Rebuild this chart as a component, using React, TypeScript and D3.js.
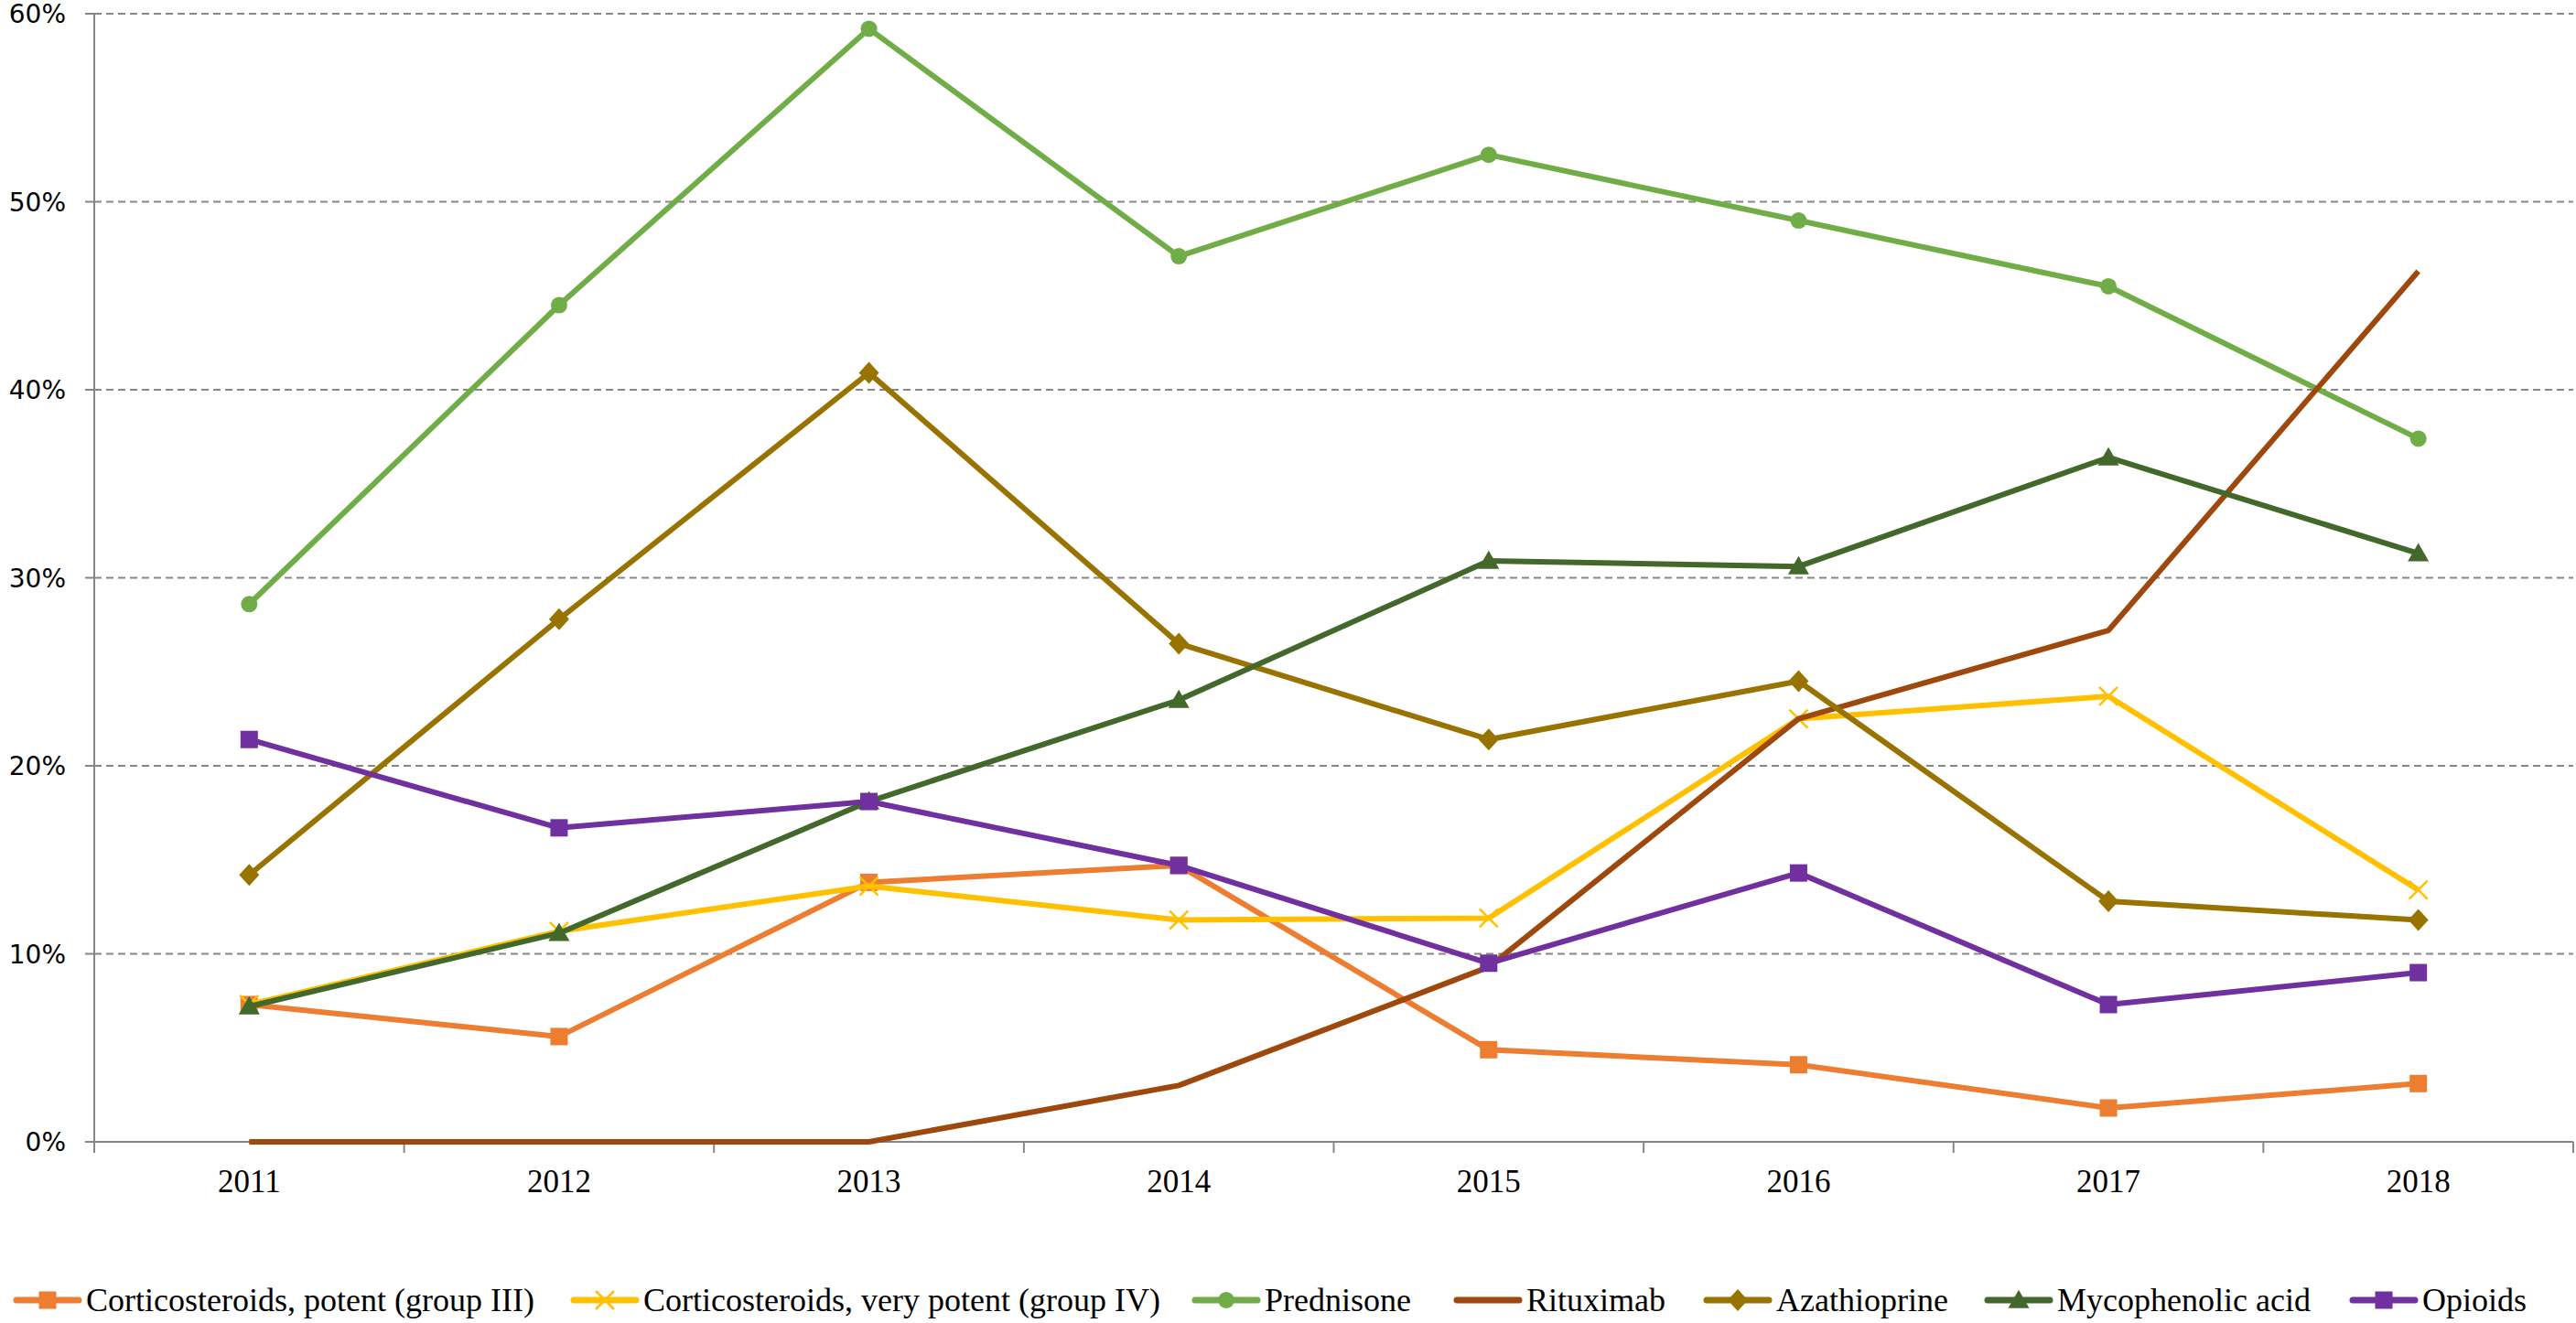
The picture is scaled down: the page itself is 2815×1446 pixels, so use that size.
import * as d3 from 'd3'

const years = ['2011', '2012', '2013', '2014', '2015', '2016', '2017', '2018']
const potent = [7.3, 5.6, 13.8, 14.7, 4.9, 4.1, 1.8, 3.1]
const veryPotent = [7.3, 11.2, 13.6, 11.8, 11.9, 22.5, 23.7, 13.4]
const prednisone = [28.6, 44.5, 59.2, 47.1, 52.5, 49.0, 45.5, 37.4]
const rituximab = [0, 0, 0, 3.0, 9.3, 22.5, 27.2, 46.3]
const azathioprine = [14.2, 27.8, 40.9, 26.5, 21.4, 24.5, 12.8, 11.8]
const mycophenolic = [7.2, 11.1, 18.1, 23.5, 30.9, 30.6, 36.4, 31.3]
const opioids = [21.4, 16.7, 18.1, 14.7, 9.5, 14.3, 7.3, 9.0]
const yTicks = [0, 10, 20, 30, 40, 50, 60]

type Marker = 'square' | 'x' | 'circle' | 'none' | 'diamond' | 'triangle'

const series: { name: string; values: number[]; color: string; marker: Marker }[] = [
  { name: 'Corticosteroids, potent (group III)', values: potent, color: '#ED7D31', marker: 'square' },
  { name: 'Corticosteroids, very potent (group IV)', values: veryPotent, color: '#FFC000', marker: 'x' },
  { name: 'Prednisone', values: prednisone, color: '#70AD47', marker: 'circle' },
  { name: 'Rituximab', values: rituximab, color: '#9E480E', marker: 'none' },
  { name: 'Azathioprine', values: azathioprine, color: '#997300', marker: 'diamond' },
  { name: 'Mycophenolic acid', values: mycophenolic, color: '#43682B', marker: 'triangle' },
  { name: 'Opioids', values: opioids, color: '#7030A0', marker: 'square' },
]

// legend item left edges (layout)
const legendX = [18, 627, 1306, 1592, 1865, 2172, 2571]

const W = 2815
const H = 1446
const plot = { left: 103, right: 2812, top: 15, bottom: 1248 }

function MarkerShape({ type, x, y, color }: { type: Marker; x: number; y: number; color: string }) {
  if (type === 'square') return <rect x={x - 9.5} y={y - 9.5} width={19} height={19} fill={color} />
  if (type === 'circle') return <circle cx={x} cy={y} r={9} fill={color} />
  if (type === 'diamond')
    return <path d={`M${x},${y - 12}L${x + 11},${y}L${x},${y + 12}L${x - 11},${y}Z`} fill={color} />
  if (type === 'triangle')
    return <path d={d3.symbol(d3.symbolTriangle, 230)()!} transform={`translate(${x},${y + 2})`} fill={color} />
  if (type === 'x')
    return (
      <g stroke={color} strokeWidth={2.5}>
        <line x1={x - 10} y1={y - 10} x2={x + 10} y2={y + 10} />
        <line x1={x - 10} y1={y + 10} x2={x + 10} y2={y - 10} />
      </g>
    )
  return null
}

export default function App() {
  const x = d3.scalePoint<string>().domain(years).range([plot.left, plot.right]).padding(0.5)
  const y = d3.scaleLinear().domain([0, 60]).range([plot.bottom, plot.top])
  const step = x.step()
  const line = d3
    .line<number>()
    .x((_, i) => x(years[i])!)
    .y((d) => y(d))

  const boundaries = d3.range(years.length + 1).map((i) => plot.left + i * step)

  return (
    <div style={{ position: 'absolute', left: 0, top: 0 }}>
      <svg width={W} height={H} style={{ display: 'block', background: '#fff' }}>
        {/* gridlines */}
        {yTicks
          .filter((t) => t > 0)
          .map((t) => (
            <line
              key={t}
              x1={plot.left}
              x2={plot.right}
              y1={y(t)}
              y2={y(t)}
              stroke="#878787"
              strokeWidth={2}
              strokeDasharray="8,5"
            />
          ))}

        {/* y axis */}
        <line x1={plot.left} x2={plot.left} y1={plot.top} y2={plot.bottom} stroke="#868686" strokeWidth={2} />
        {yTicks.map((t) => (
          <g key={t}>
            <line x1={plot.left - 10} x2={plot.left} y1={y(t)} y2={y(t)} stroke="#868686" strokeWidth={2} />
            <text
              x={72}
              y={y(t)}
              dy="0.36em"
              textAnchor="end"
              fontFamily="'DejaVu Sans', sans-serif"
              fontSize={28}
              fill="#000"
            >
              {t}%
            </text>
          </g>
        ))}

        {/* x axis */}
        <line x1={plot.left} x2={plot.right} y1={plot.bottom} y2={plot.bottom} stroke="#868686" strokeWidth={2} />
        {boundaries.map((bx, i) => (
          <line key={i} x1={bx} x2={bx} y1={plot.bottom} y2={plot.bottom + 12} stroke="#868686" strokeWidth={2} />
        ))}
        {years.map((yr) => (
          <text
            key={yr}
            x={x(yr)}
            y={1303}
            textAnchor="middle"
            fontFamily="'Liberation Serif', 'Times New Roman', serif"
            fontSize={35}
            fill="#000"
          >
            {yr}
          </text>
        ))}

        {/* series */}
        {series.map((s) => (
          <g key={s.name}>
            <path
              d={line(s.values)!}
              fill="none"
              stroke={s.color}
              strokeWidth={6}
              strokeLinejoin="round"
            />
            {s.values.map((v, i) => (
              <MarkerShape key={i} type={s.marker} x={x(years[i])!} y={y(v)} color={s.color} />
            ))}
          </g>
        ))}

        {/* legend */}
        {series.map((s, i) => {
          const lx = legendX[i]
          const ly = 1421
          return (
            <g key={s.name}>
              <line x1={lx} x2={lx + 68} y1={ly} y2={ly} stroke={s.color} strokeWidth={7} strokeLinecap="round" />
              <MarkerShape type={s.marker} x={lx + 34} y={ly} color={s.color} />
              <text
                x={lx + 76}
                y={1433}
                fontFamily="'Liberation Serif', 'Times New Roman', serif"
                fontSize={36}
                fill="#000"
              >
                {s.name}
              </text>
            </g>
          )
        })}
      </svg>
    </div>
  )
}
